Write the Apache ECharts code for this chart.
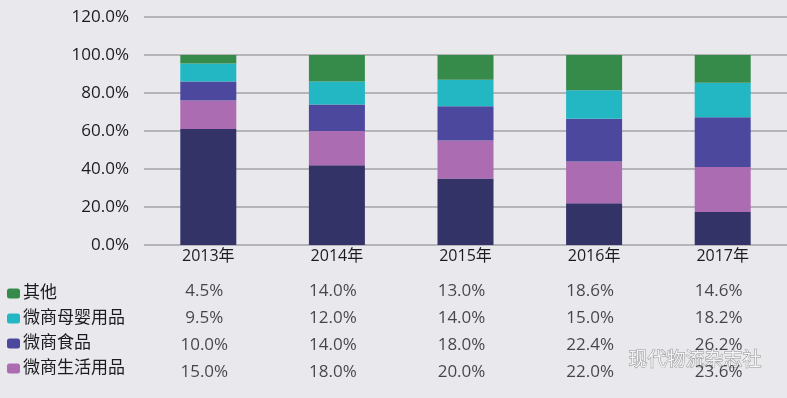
<!DOCTYPE html>
<html>
<head>
<meta charset="utf-8">
<script src="https://cdn.jsdelivr.net/npm/echarts@6/dist/echarts.min.js"></script>
<style>
    html, body { margin: 0; padding: 0; background: #e9e8ed; }
    #main { width: 787px; height: 398px; }
</style>
</head>
<body>
<div id="main"></div>
<script>
// 数据
const years = ['2013年', '2014年', '2015年', '2016年', '2017年'];
const yTicks = [0, 20, 40, 60, 80, 100, 120];
const baseVals = [61.0, 42.0, 35.0, 22.0, 17.4];   // 最底部系列（表中未显示）
const dailyVals = [15.0, 18.0, 20.0, 22.0, 23.6];   // 微商生活用品
const foodVals = [10.0, 14.0, 18.0, 22.4, 26.2];    // 微商食品
const babyVals = [9.5, 12.0, 14.0, 15.0, 18.2];     // 微商母婴用品
const otherVals = [4.5, 14.0, 13.0, 18.6, 14.6];    // 其他
const rowNames = ['其他', '微商母婴用品', '微商食品', '微商生活用品'];

const font = '"Open Sans", "Noto Sans CJK SC", sans-serif';
const textColor = '#1c1c1e';
const colors = {
    base: '#343367',
    daily: '#ab6cb2',
    food: '#4b489d',
    baby: '#22b7c3',
    other: '#378b4a'
};

let tableRows = [otherVals, babyVals, foodVals, dailyVals];
let tableData = [];
tableRows.forEach(function (row, r) {
    row.forEach(function (v, c) {
        tableData.push([c, r, v]);
    });
});

let myChart = echarts.init(document.getElementById('main'));

function barSeries(name, data, color) {
    return {
        name: name,
        type: 'bar',
        stack: 'total',
        barWidth: 56,
        data: data,
        itemStyle: { color: color },
        xAxisIndex: 0,
        yAxisIndex: 0
    };
}

myChart.setOption({
    backgroundColor: '#e9e8ed',
    textStyle: { fontFamily: font },
    animation: false,
    legend: {
        orient: 'vertical',
        left: 2,
        top: 280,
        itemWidth: 13,
        itemHeight: 10,
        itemGap: 8,
        data: rowNames,
        selectedMode: false,
        textStyle: { fontSize: 17, color: textColor, fontFamily: font, padding: [0, 0, 0, -2] }
    },
    grid: [
        { left: 144, width: 650, top: 17, height: 228 },
        { left: 144, width: 650, top: 278, height: 108 }
    ],
    xAxis: [
        {
            type: 'category',
            gridIndex: 0,
            data: years,
            axisLine: { show: false },
            axisTick: { show: false },
            axisLabel: { color: textColor, fontSize: 16, margin: 3, fontFamily: font }
        },
        {
            type: 'category',
            gridIndex: 1,
            data: years,
            show: false
        }
    ],
    yAxis: [
        {
            type: 'value',
            gridIndex: 0,
            min: yTicks[0],
            max: yTicks[yTicks.length - 1],
            interval: 20,
            axisLabel: {
                color: textColor,
                fontSize: 17,
                margin: 15,
                fontFamily: font,
                formatter: function (v) { return v.toFixed(1) + '%'; }
            },
            splitLine: { lineStyle: { color: '#a3a3a7', width: 1.5 } }
        },
        {
            type: 'category',
            gridIndex: 1,
            inverse: true,
            data: rowNames,
            show: false
        }
    ],
    series: [
        barSeries('微商服装', baseVals, colors.base),
        barSeries('微商生活用品', dailyVals, colors.daily),
        barSeries('微商食品', foodVals, colors.food),
        barSeries('微商母婴用品', babyVals, colors.baby),
        barSeries('其他', otherVals, colors.other),
        {
            name: 'table',
            type: 'scatter',
            xAxisIndex: 1,
            yAxisIndex: 1,
            symbolSize: 0,
            data: tableData,
            label: {
                show: true,
                position: 'inside',
                offset: [-4, 0],
                color: textColor,
                fontSize: 17,
                fontFamily: font,
                formatter: function (p) { return p.value[2].toFixed(1) + '%'; }
            },
            silent: true
        }
    ],
    graphic: [
        {
            type: 'text',
            left: 628,
            top: 349,
            style: {
                text: '现代物流杂志社',
                fontSize: 19,
                fontFamily: '"Noto Sans CJK SC", sans-serif',
                fill: 'rgba(255,255,255,0.85)',
                stroke: 'rgba(90,90,90,0.6)',
                lineWidth: 1
            }
        }
    ]
});
</script>
</body>
</html>
